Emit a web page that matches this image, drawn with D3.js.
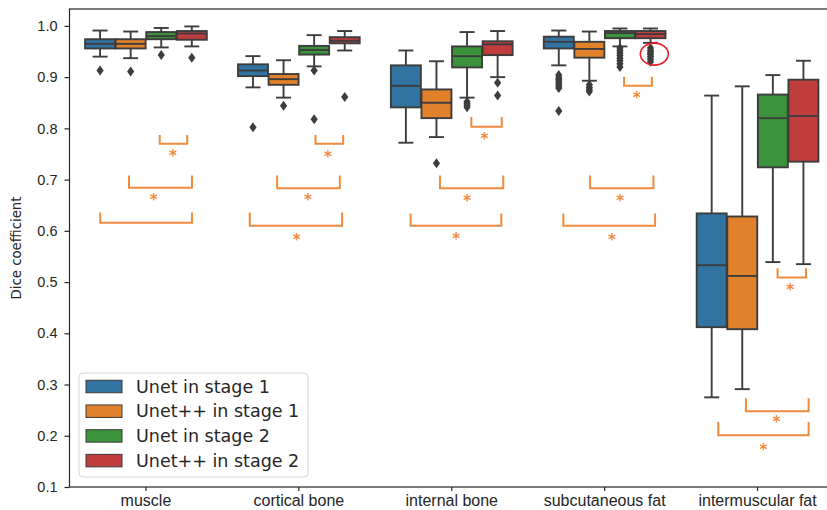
<!DOCTYPE html>
<html lang="en">
  <head>
    <meta charset="UTF-8" />
    <title>Dice coefficient</title>
    <style>
      body {
        margin: 0;
        background: #fff;
      }
      svg {
        font-family: "DejaVu Sans", sans-serif;
      }
    </style>
  </head>
  <body>
    <svg id="chart" width="827" height="510"></svg>
  </body>
  <script src="https://cdn.jsdelivr.net/npm/d3@7"></script>
  <script>
    const categories = ["muscle", "cortical bone", "internal bone", "subcutaneous fat", "intermuscular fat"];
    const seriesNames = ["Unet in stage 1", "Unet++ in stage 1", "Unet in stage 2", "Unet++ in stage 2"];
    const yTicks = [0.1, 0.2, 0.3, 0.4, 0.5, 0.6, 0.7, 0.8, 0.9, 1.0];

    // [lower whisker, q1, median, q3, upper whisker] per category
    const unet1 = [
      [0.94, 0.956, 0.965, 0.974, 0.991],
      [0.88, 0.902, 0.913, 0.925, 0.941],
      [0.772, 0.841, 0.883, 0.923, 0.952],
      [0.923, 0.956, 0.969, 0.979, 0.991],
      [0.275, 0.412, 0.533, 0.634, 0.864],
    ];
    const unetpp1 = [
      [0.937, 0.956, 0.965, 0.974, 0.989],
      [0.86, 0.885, 0.896, 0.906, 0.933],
      [0.783, 0.82, 0.85, 0.876, 0.931],
      [0.893, 0.938, 0.955, 0.969, 0.989],
      [0.291, 0.408, 0.512, 0.628, 0.882],
    ];
    const unet2 = [
      [0.958, 0.974, 0.98, 0.988, 0.996],
      [0.921, 0.944, 0.953, 0.961, 0.982],
      [0.86, 0.919, 0.941, 0.96, 0.988],
      [0.96, 0.976, 0.986, 0.99, 0.995],
      [0.539, 0.724, 0.82, 0.866, 0.904],
    ];
    const unetpp2 = [
      [0.96, 0.973, 0.985, 0.99, 0.999],
      [0.952, 0.966, 0.971, 0.978, 0.99],
      [0.9, 0.943, 0.964, 0.97, 0.99],
      [0.967, 0.976, 0.984, 0.99, 0.995],
      [0.535, 0.735, 0.824, 0.895, 0.932],
    ];

    const unet1Out = [[0.913], [0.802], [], [0.904, 0.899, 0.895, 0.891, 0.887, 0.883, 0.879, 0.834], []];
    const unetpp1Out = [[0.911], [0.844], [0.732], [0.885, 0.88, 0.876, 0.872], []];
    const unet2Out = [[0.943], [0.913, 0.818], [0.852, 0.848, 0.845, 0.841], [0.957, 0.952, 0.947, 0.942, 0.937, 0.932, 0.926, 0.92], []];
    const unetpp2Out = [[0.938], [0.861], [0.889, 0.864], [0.957, 0.952, 0.948, 0.944, 0.94, 0.935, 0.93], []];

    // significance brackets: category, x from/to (offset in category units), top, bottom, star [dx, y]
    const brackets = [
      ["muscle", 0.09, 0.27, 0.787, 0.77, [0.177, 0.752]],
      ["muscle", -0.111, 0.301, 0.708, 0.684, [0.05, 0.666]],
      ["muscle", -0.299, 0.301, 0.636, 0.616, null],
      ["cortical bone", 0.109, 0.29, 0.787, 0.77, [0.191, 0.75]],
      ["cortical bone", -0.142, 0.268, 0.708, 0.683, [0.059, 0.666]],
      ["cortical bone", -0.321, 0.283, 0.636, 0.61, [-0.015, 0.587]],
      ["internal bone", 0.128, 0.327, 0.822, 0.803, [0.213, 0.786]],
      ["internal bone", -0.077, 0.337, 0.708, 0.683, [0.101, 0.664]],
      ["internal bone", -0.269, 0.324, 0.634, 0.61, [0.029, 0.589]],
      ["subcutaneous fat", 0.127, 0.309, 0.901, 0.883, [0.21, 0.865]],
      ["subcutaneous fat", -0.095, 0.319, 0.708, 0.683, [0.101, 0.664]],
      ["subcutaneous fat", -0.27, 0.33, 0.634, 0.61, [0.047, 0.587]],
      ["intermuscular fat", 0.131, 0.317, 0.527, 0.509, [0.214, 0.49]],
      ["intermuscular fat", -0.076, 0.334, 0.273, 0.248, [0.124, 0.232]],
      ["intermuscular fat", -0.257, 0.334, 0.227, 0.201, [0.039, 0.179]],
    ];
    // red circle marking subcutaneous fat outliers: [category, dx, value]
    const highlight = ["subcutaneous fat", 0.325, 0.945];

    const stats = [unet1, unetpp1, unet2, unetpp2];
    const outliers = [unet1Out, unetpp1Out, unet2Out, unetpp2Out];
    const colors = ["#3274a1", "#e1812c", "#3a923a", "#c03d3e"];
    const lineColor = "#3d3d3d";
    const sigColor = "#f08a3c";

    const svg = d3.select("#chart");
    const padL = 69.5, padR = 834, padT = 9, padB = 487;

    const x = d3.scaleBand().domain(categories).range([padL, padR]);
    const xLin = d3.scaleLinear().domain([-0.5, categories.length - 0.5]).range([padL, padR]);
    const bw = x.bandwidth();
    const xHue = d3.scaleBand().domain(seriesNames).range([0.1 * bw, 0.9 * bw]);
    const boxW = xHue.bandwidth() * 0.98;
    const y = d3.scaleLinear().domain([0.1, 1.033]).range([padB, padT]);

    // axes
    const xAxis = svg.append("g")
      .attr("transform", `translate(0,${padB})`)
      .call(d3.axisBottom(x).tickSize(4).tickSizeOuter(0).tickPadding(4));
    xAxis.selectAll("text").style("font-size", "16px").attr("fill", "#262626");

    const yAxis = svg.append("g")
      .attr("transform", `translate(${padL},0)`)
      .call(d3.axisLeft(y).tickValues(yTicks).tickFormat(d3.format(".1f")).tickSize(5).tickSizeOuter(0).tickPadding(7));
    yAxis.selectAll("text").style("font-size", "14.5px").attr("fill", "#262626");

    svg.selectAll(".domain").remove();
    svg.selectAll(".tick line").attr("stroke", "#262626").attr("stroke-width", 1.2);

    svg.append("rect")
      .attr("x", padL).attr("y", padT)
      .attr("width", padR - padL).attr("height", padB - padT)
      .attr("fill", "none").attr("stroke", "#262626").attr("stroke-width", 1.2);

    svg.append("text")
      .attr("transform", `translate(21,${(padT + padB) / 2}) rotate(-90)`)
      .attr("text-anchor", "middle")
      .style("font-size", "13.3px")
      .attr("fill", "#262626")
      .text("Dice coefficient");

    // boxes
    const boxData = [];
    stats.forEach((s, si) => {
      s.forEach((d, ci) => {
        boxData.push({ si, cat: categories[ci], v: d, out: outliers[si][ci] });
      });
    });

    const g = svg.append("g");
    const boxes = g.selectAll("g.box").data(boxData).join("g").attr("class", "box");

    boxes.each(function (d) {
      const el = d3.select(this);
      const cx = x(d.cat) + xHue(seriesNames[d.si]) + xHue.bandwidth() / 2;
      const [lo, q1, med, q3, hi] = d.v;
      const capW = boxW / 2;
      el.append("line").attr("x1", cx).attr("x2", cx).attr("y1", y(q3)).attr("y2", y(hi));
      el.append("line").attr("x1", cx).attr("x2", cx).attr("y1", y(q1)).attr("y2", y(lo));
      el.append("line").attr("x1", cx - capW / 2).attr("x2", cx + capW / 2).attr("y1", y(hi)).attr("y2", y(hi));
      el.append("line").attr("x1", cx - capW / 2).attr("x2", cx + capW / 2).attr("y1", y(lo)).attr("y2", y(lo));
      el.append("rect")
        .attr("x", cx - boxW / 2).attr("width", boxW)
        .attr("y", y(q3)).attr("height", y(q1) - y(q3))
        .attr("fill", colors[d.si]);
      el.append("line").attr("x1", cx - boxW / 2).attr("x2", cx + boxW / 2).attr("y1", y(med)).attr("y2", y(med));
      el.selectAll("line, rect").attr("stroke", lineColor).attr("stroke-width", 1.9);
      el.selectAll("path.flier").data(d.out).join("path")
        .attr("class", "flier")
        .attr("d", (v) => `M${cx},${y(v) - 5}L${cx + 3.6},${y(v)}L${cx},${y(v) + 5}L${cx - 3.6},${y(v)}Z`)
        .attr("fill", lineColor);
    });

    // significance brackets
    const sig = svg.append("g");
    brackets.forEach(([cat, a, b, t, bt, star]) => {
      const ci = categories.indexOf(cat);
      sig.append("path")
        .attr("d", `M${xLin(ci + a)},${y(t)}V${y(bt)}H${xLin(ci + b)}V${y(t)}`)
        .attr("fill", "none").attr("stroke", sigColor).attr("stroke-width", 2);
      if (star) {
        sig.append("text")
          .attr("x", xLin(ci + star[0])).attr("y", y(star[1]) + 8)
          .attr("text-anchor", "middle")
          .style("font-size", "15px").style("font-weight", "bold")
          .attr("fill", sigColor).text("*");
      }
    });

    const hc = categories.indexOf(highlight[0]);
    svg.append("ellipse")
      .attr("cx", xLin(hc + highlight[1])).attr("cy", y(highlight[2]))
      .attr("rx", 14).attr("ry", 11)
      .attr("fill", "none").attr("stroke", "#e8202a").attr("stroke-width", 1.6);

    // legend
    const lg = svg.append("g").attr("transform", "translate(79,373)");
    lg.append("rect").attr("width", 229).attr("height", 104).attr("rx", 4)
      .attr("fill", "rgba(255,255,255,0.85)").attr("stroke", "#d5d5d5");
    const items = lg.selectAll("g.item").data(seriesNames).join("g")
      .attr("transform", (d, i) => `translate(7,${13.5 + i * 24.7})`);
    items.append("rect").attr("width", 36).attr("height", 12.5).attr("y", -6.25)
      .attr("fill", (d, i) => colors[i]).attr("stroke", lineColor).attr("stroke-width", 1);
    items.append("text").attr("x", 50).attr("dy", "0.35em")
      .style("font-size", "17.5px").attr("fill", "#262626").text((d) => d);
  </script>
</html>
